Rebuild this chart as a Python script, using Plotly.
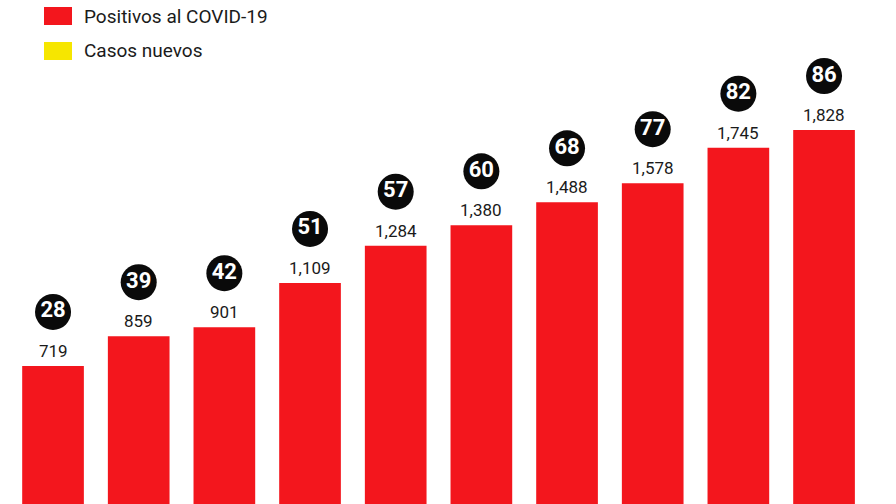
import plotly.graph_objects as go

positivos = [719, 859, 901, 1109, 1284, 1380, 1488, 1578, 1745, 1828]
casos_nuevos = [28, 39, 42, 51, 57, 60, 68, 77, 82, 86]
x_pos = list(range(len(positivos)))

RED = "#f3161d"
YELLOW = "#f6e600"

px_per_unit = 0.2128  # vertical pixels per case
circle_offset = 54 / px_per_unit

fig = go.Figure()
fig.add_trace(go.Bar(
    x=x_pos, y=positivos, marker=dict(color=RED, line=dict(width=0)),
    width=0.72, hoverinfo="skip", showlegend=False,
))
fig.add_trace(go.Scatter(
    x=x_pos, y=[v + circle_offset for v in positivos],
    mode="markers+text",
    marker=dict(size=36, color="#0a0a0a", line=dict(width=0)),
    text=[str(c) for c in casos_nuevos], textposition="middle center",
    textfont=dict(family="Roboto", size=22, color="white", weight="bold"),
    hoverinfo="skip", showlegend=False,
))

annotations = []
for xi, v in zip(x_pos, positivos):
    annotations.append(dict(
        x=xi, y=v, xref="x", yref="y", text=f"{v:,}", showarrow=False,
        yanchor="bottom", yshift=3,
        font=dict(family="Roboto", size=17, color="#1a1a1a"),
    ))

legend_items = [("Positivos al COVID-19", RED, 16), ("Casos nuevos", YELLOW, 51)]
shapes = []
for label, col, yc in legend_items:
    shapes.append(dict(type="rect", xref="paper", yref="paper",
                       x0=44 / 896, x1=72 / 896,
                       y0=1 - (yc + 9) / 504, y1=1 - (yc - 9) / 504,
                       fillcolor=col, line=dict(width=0)))
    annotations.append(dict(x=82 / 896, y=1 - yc / 504, xref="paper", yref="paper",
                            text=label, showarrow=False, xanchor="left", yanchor="middle",
                            font=dict(family="Roboto", size=19, color="#1a1a1a")))

fig.update_layout(
    width=896, height=504,
    margin=dict(l=0, r=0, t=0, b=0),
    paper_bgcolor="white", plot_bgcolor="white",
    xaxis=dict(range=[-0.619, 9.84], visible=False, fixedrange=True),
    yaxis=dict(range=[70, 2439], visible=False, fixedrange=True),
    annotations=annotations, shapes=shapes,
    bargap=0.28,
)
fig.write_html("out.html")
